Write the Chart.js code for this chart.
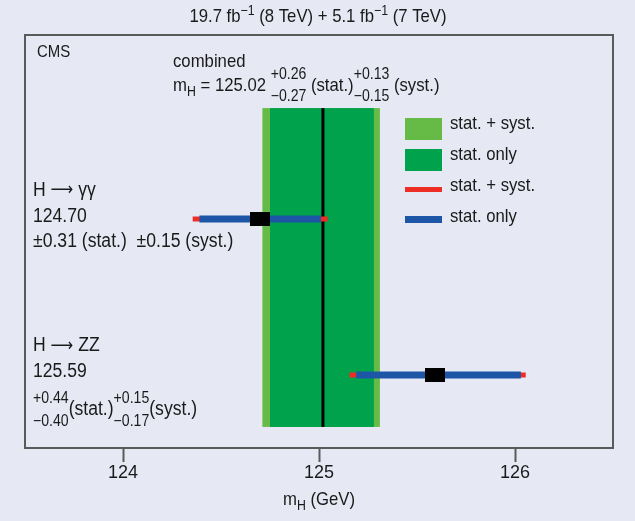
<!DOCTYPE html>
<html>
<head>
<meta charset="utf-8">
<script src="https://cdn.jsdelivr.net/npm/chart.js@4.4.0/dist/chart.umd.min.js"></script>
<style>
  html, body { margin: 0; padding: 0; background: #e6e9f4; }
  #wrap { width: 635px; height: 521px; }
</style>
</head>
<body>
<div id="wrap"><canvas id="massChart" width="635" height="521"></canvas></div>
<script>
// Data
const channels = ['\u03b3\u03b3', 'ZZ'];
const mass = [124.70, 125.59];
const statUp = [0.31, 0.44];
const statDn = [0.31, 0.40];
const systUp = [0.15, 0.15];
const systDn = [0.15, 0.17];

const combMass = 125.02;
const combStatUp = 0.26;
const combStatDn = 0.27;
const combSystUp = 0.13;
const combSystDn = 0.15;

const tickValues = [124, 125, 126];
const legendLabels = ['stat. + syst.', 'stat. only', 'stat. + syst.', 'stat. only'];

const FONT = '"Liberation Sans", Arial, sans-serif';
const SX = 0.88; // squeeze text horizontally, the original face is condensed
const LIGHT_GREEN = '#66bb46';
const DARK_GREEN = '#00a24b';
const RED = '#ee2d24';
const BLUE = '#1d56a6';

// vertical layout on the hidden y axis (0..10)
const rowY = [5.545, 1.77];
const bandTop = 8.23, bandBottom = 0.51;

function quad(a, b) { return Math.sqrt(a * a + b * b); }

const markerImg = document.createElement('canvas');
markerImg.width = 20; markerImg.height = 14;
markerImg.getContext('2d').fillRect(0, 0, 20, 14);

const datasets = [];
datasets.push({
    label: 'marker',
    data: mass.map((m, i) => ({ x: m, y: rowY[i] })),
    pointStyle: markerImg,
    pointRadius: 10,
    showLine: false,
    order: 0
});
mass.forEach((m, i) => {
    datasets.push({
        label: 'stat ' + channels[i],
        data: [{ x: m - statDn[i], y: rowY[i] }, { x: m + statUp[i], y: rowY[i] }],
        showLine: true, borderColor: BLUE, borderWidth: 7, pointRadius: 0,
        borderCapStyle: 'butt', order: 1
    });
    datasets.push({
        label: 'total ' + channels[i],
        data: [{ x: m - quad(statDn[i], systDn[i]), y: rowY[i] },
               { x: m + quad(statUp[i], systUp[i]), y: rowY[i] }],
        showLine: true, borderColor: RED, borderWidth: 5, pointRadius: 0,
        borderCapStyle: 'butt', order: 2
    });
});

function put(ctx, s, x, y, draw) {
    if (draw) {
        ctx.save();
        ctx.translate(x, y);
        ctx.scale(SX, 1);
        ctx.fillText(s, 0, 0);
        ctx.restore();
    }
    return ctx.measureText(s).width * SX;
}

// draw text with sup / sub / stacked pieces
function rich(ctx, x, y, parts, size, measureOnly) {
    const small = Math.round(size * 0.72);
    const stack = Math.round(size * 0.82);
    const draw = !measureOnly;
    let cx = x;
    ctx.textBaseline = 'middle';
    ctx.textAlign = 'left';
    parts.forEach(p => {
        if (typeof p === 'string') {
            ctx.font = size + 'px ' + FONT;
            cx += put(ctx, p, cx, y, draw);
        } else if (p.arrow !== undefined) {
            ctx.font = Math.round(size * 0.9) + 'px "DejaVu Sans"';
            cx += put(ctx, p.arrow, cx, y, draw);
        } else if (p.sub !== undefined) {
            ctx.font = small + 'px ' + FONT;
            cx += put(ctx, p.sub, cx, y + size * 0.3, draw);
        } else if (p.sup !== undefined) {
            ctx.font = small + 'px ' + FONT;
            cx += put(ctx, p.sup, cx, y - size * 0.3, draw);
        } else {
            ctx.font = stack + 'px ' + FONT;
            const w1 = put(ctx, p.up, cx, y - size * 0.58, draw);
            const w2 = put(ctx, p.dn, cx, y + size * 0.58, draw);
            cx += Math.max(w1, w2);
        }
    });
    return cx - x;
}

function fmt(v) { return v.toFixed(2); }

const decor = {
    id: 'decor',
    beforeDatasetsDraw(chart) {
        const { ctx, scales: { x, y } } = chart;
        ctx.save();
        const t = y.getPixelForValue(bandTop), b = y.getPixelForValue(bandBottom);
        const totLo = x.getPixelForValue(combMass - quad(combStatDn, combSystDn));
        const totHi = x.getPixelForValue(combMass + quad(combStatUp, combSystUp));
        ctx.fillStyle = LIGHT_GREEN;
        ctx.fillRect(totLo, t, totHi - totLo, b - t);
        const stLo = x.getPixelForValue(combMass - combStatDn);
        const stHi = x.getPixelForValue(combMass + combStatUp);
        ctx.fillStyle = DARK_GREEN;
        ctx.fillRect(stLo, t, stHi - stLo, b - t);
        const cm = x.getPixelForValue(combMass);
        ctx.fillStyle = '#000';
        ctx.fillRect(cm - 1.5, t, 3, b - t);
        ctx.restore();
    },
    afterDraw(chart) {
        const { ctx, chartArea: a, scales: { x, y } } = chart;
        ctx.save();
        ctx.strokeStyle = '#5a5a5a';
        ctx.lineWidth = 2;
        ctx.strokeRect(a.left, a.top, a.right - a.left, a.bottom - a.top);
        ctx.fillStyle = '#1a1a1a';

        // title
        const title = ['19.7 fb', { sup: '\u22121' }, ' (8 TeV) + 5.1 fb', { sup: '\u22121' }, ' (7 TeV)'];
        const tw = rich(ctx, 0, 0, title, 19, true);
        rich(ctx, 318 - tw / 2, 17, title, 19);

        rich(ctx, a.left + 12, a.top + 17, ['CMS'], 17);

        rich(ctx, 173, 62, ['combined'], 19);
        rich(ctx, 173, 86, ['m', { sub: 'H' }, ' = ' + fmt(combMass) + ' ',
            { up: '+' + fmt(combStatUp), dn: '\u2212' + fmt(combStatDn) }, ' (stat.)',
            { up: '+' + fmt(combSystUp), dn: '\u2212' + fmt(combSystDn) }, ' (syst.)'], 19);

        // channel labels
        const lx = a.left + 8;
        [0, 1].forEach(i => {
            const yc = y.getPixelForValue(rowY[i]);
            rich(ctx, lx, yc - 29, ['H ', { arrow: '\u27f6' }, ' ' + channels[i]], 20);
            rich(ctx, lx, yc - 3, [fmt(mass[i])], 20);
            if (statUp[i] === statDn[i] && systUp[i] === systDn[i]) {
                rich(ctx, lx, yc + 22, ['\u00b1' + fmt(statUp[i]) + ' (stat.)  \u00b1' + fmt(systUp[i]) + ' (syst.)'], 20);
            } else {
                rich(ctx, lx, yc + 35, [{ up: '+' + fmt(statUp[i]), dn: '\u2212' + fmt(statDn[i]) }, '(stat.)',
                    { up: '+' + fmt(systUp[i]), dn: '\u2212' + fmt(systDn[i]) }, '(syst.)'], 20);
            }
        });

        // legend
        const bx = 405, bw = 37, txx = 450;
        ctx.fillStyle = LIGHT_GREEN; ctx.fillRect(bx, 118, bw, 22);
        ctx.fillStyle = DARK_GREEN; ctx.fillRect(bx, 149, bw, 22);
        ctx.fillStyle = RED; ctx.fillRect(bx, 187, bw, 5);
        ctx.fillStyle = BLUE; ctx.fillRect(bx, 216, bw, 7);
        ctx.fillStyle = '#1a1a1a';
        [124, 155, 186, 217].forEach((yy, k) => rich(ctx, txx, yy, [legendLabels[k]], 19));

        // axis title
        const at = ['m', { sub: 'H' }, ' (GeV)'];
        const aw = rich(ctx, 0, 0, at, 19, true);
        rich(ctx, (a.left + a.right) / 2 - aw / 2, 500, at, 19);
        ctx.restore();
    }
};

const chart = new Chart(document.getElementById('massChart').getContext('2d'), {
    type: 'scatter',
    data: { datasets: datasets },
    options: {
        responsive: false,
        animation: false,
        events: [],
        layout: { padding: { left: 25, right: 22, top: 35, bottom: 0 } },
        plugins: { legend: { display: false }, tooltip: { enabled: false } },
        scales: {
            x: {
                type: 'linear',
                min: 123.5,
                max: 126.5,
                afterBuildTicks: s => { s.ticks = tickValues.map(v => ({ value: v })); },
                afterFit: s => { s.height = 73; },
                border: { display: false },
                grid: { drawOnChartArea: false, drawTicks: true, tickLength: 14, tickColor: '#5a5a5a', tickWidth: 2 },
                ticks: { color: '#1a1a1a', font: { family: FONT, size: 18 }, padding: 0 }
            },
            y: { type: 'linear', min: 0, max: 10, display: false }
        }
    },
    plugins: [decor]
});
</script>
</body>
</html>
